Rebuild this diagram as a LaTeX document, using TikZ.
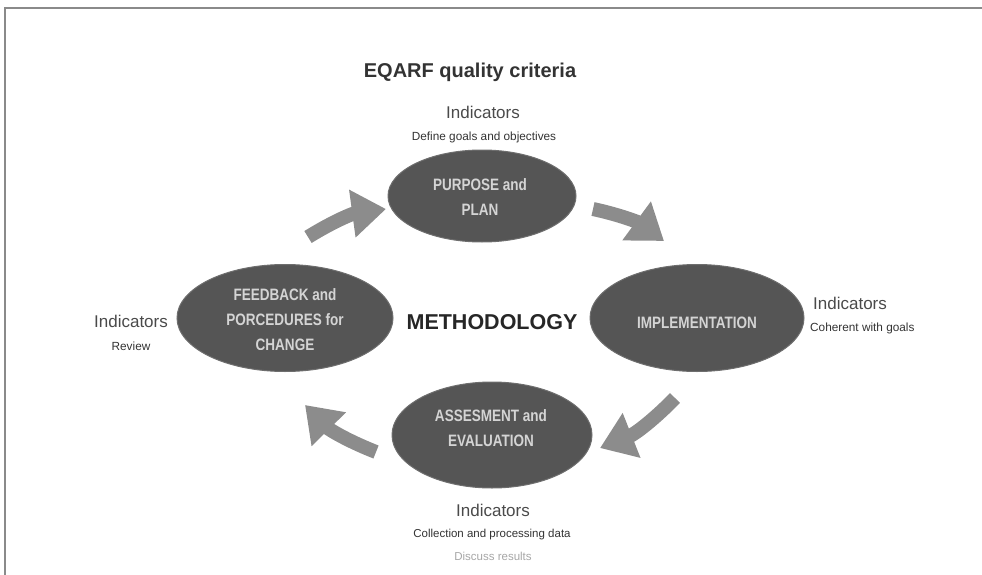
\documentclass[tikz,border=0pt]{standalone}
\usepackage{fontspec}
\setmainfont{Liberation Sans}
\newfontfamily\condfont[FakeStretch=0.82]{Liberation Sans}
\usetikzlibrary{shapes.geometric,arrows.meta}
\definecolor{ellfill}{HTML}{555555}
\definecolor{elltext}{HTML}{D4D4D4}
\definecolor{indc}{HTML}{4A4A4A}
\definecolor{subc}{HTML}{333333}
\definecolor{arrc}{HTML}{8C8C8C}
\definecolor{framec}{HTML}{8A8A8A}
\tikzset{
  ell/.style={ellipse, fill=ellfill, draw=ellfill!85!white, line width=1pt, inner sep=0pt},
  etext/.style={align=center, text=elltext, font=\condfont\bfseries\fontsize{16.5}{25}\selectfont},
  ind/.style={text=indc, inner sep=0pt, font=\fontsize{17}{20}\selectfont},
  sub/.style={text=subc, inner sep=0pt, font=\fontsize{11.8}{14}\selectfont},
  cyc/.style={line width=14pt, draw=arrc, -{Triangle[length=34pt,width=46pt]}}
}
\begin{document}
\begin{tikzpicture}[x=1pt,y=-1pt]
\useasboundingbox (0,0) rectangle (982,575);
% frame
\draw[framec, line width=1.5pt] (5,575) -- (5,8) -- (982,8);
% title
\node[inner sep=0pt, text=subc, font=\bfseries\fontsize{20}{24}\selectfont] (title) at (470,72) {EQARF quality criteria};
% ellipses
\node[ell, minimum width=188pt, minimum height=92pt] (pp) at (482,196) {};
\node[ell, minimum width=214pt, minimum height=107pt] (impl) at (697,318) {};
\node[ell, minimum width=216pt, minimum height=107pt] (fb) at (285,318) {};
\node[ell, minimum width=200pt, minimum height=106pt] (ae) at (492,435) {};
% ellipse texts
\node[etext] (pptext) at (480,197) {PURPOSE and\\PLAN};
\node[etext] (impltext) at (697,323) {IMPLEMENTATION};
\begin{scope}
\clip (150,250) rectangle (420,349);
\node[etext] (fbtext) at (285,320) {FEEDBACK and\\PORCEDURES for\\CHANGE};
\end{scope}
\node[etext] (aetext) at (491,428) {ASSESMENT and\\EVALUATION};
% methodology
\node[inner sep=0pt, text=black!85, font=\bfseries\fontsize{21.5}{24}\selectfont] (meth) at (492,322) {METHODOLOGY};
% indicators top
\node[ind] (indtop) at (483,112) {Indicators};
\node[sub] (subtop) at (484,137) {Define goals and objectives};
% right
\node[ind, anchor=west] (indright) at (813,303) {Indicators};
\node[sub, anchor=west] (subright) at (810,328) {Coherent with goals};
% left
\node[ind] (indleft) at (131,321) {Indicators};
\node[sub] (subleft) at (131,346) {Review};
% bottom
\node[ind] (indbot) at (493,510) {Indicators};
\node[sub, font=\fontsize{11.5}{14}\selectfont] (subbot) at (492,535) {Collection and processing data};
\node[sub, text=black!35, font=\fontsize{11.5}{14}\selectfont] (subbot2) at (493,556) {Discuss results};
% cycle arrows
\coordinate (a1s) at (308,237);
\coordinate (a1e) at (386,209);
\coordinate (a2s) at (593,209);
\coordinate (a2e) at (664,241);
\coordinate (a3s) at (675,398);
\coordinate (a3e) at (600,448);
\coordinate (a4s) at (376,452);
\coordinate (a4e) at (305,405);
\draw[cyc] (a1s) to[bend left=12] (a1e);
\draw[cyc] (a2s) to[bend left=12] (a2e);
\draw[cyc] (a3s) to[bend left=12] (a3e);
\draw[cyc] (a4s) to[bend left=12] (a4e);
\end{tikzpicture}
\end{document}
